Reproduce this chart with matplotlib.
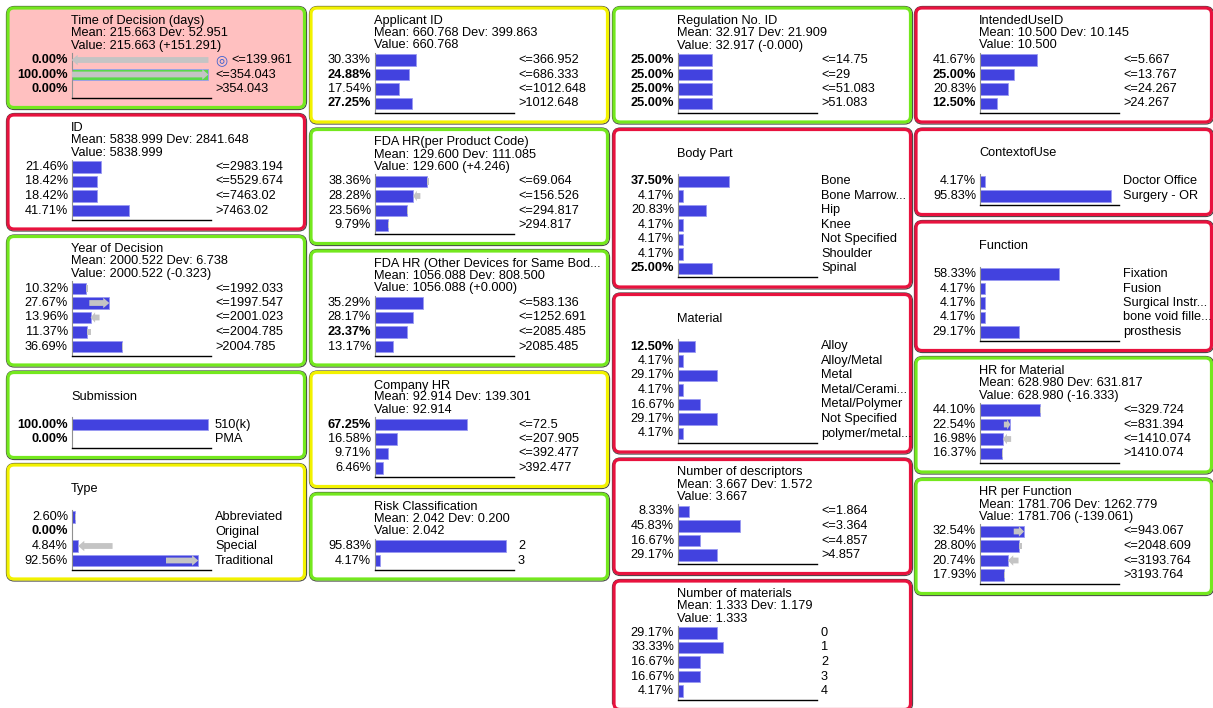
import matplotlib
matplotlib.use("Agg")
import matplotlib.pyplot as plt
from matplotlib.patches import FancyBboxPatch
from matplotlib.transforms import blended_transform_factory

plt.rcParams["font.family"] = ["Liberation Sans", "DejaVu Sans"]

time_states = ["<=139.961", "<=354.043", ">354.043"]
time_probs = [0.00, 100.00, 0.00]
time_prior = [100.0, 0.0, None]
time_bold = [0, 1, 2]
time_stats = (215.663, 52.951, 151.291)

id_states = ["<=2983.194", "<=5529.674", "<=7463.02", ">7463.02"]
id_probs = [21.46, 18.42, 18.42, 41.71]
id_stats = (5838.999, 2841.648, None)

year_states = ["<=1992.033", "<=1997.547", "<=2001.023", "<=2004.785", ">2004.785"]
year_probs = [10.32, 27.67, 13.96, 11.37, 36.69]
year_prior = [12.4, 13.0, 20.5, 14.2, 37.4]
year_stats = (2000.522, 6.738, -0.323)

sub_states = ["510(k)", "PMA"]
sub_probs = [100.00, 0.00]
sub_bold = [0, 1]

type_states = ["Abbreviated", "Original", "Special", "Traditional"]
type_probs = [2.60, 0.00, 4.84, 92.56]
type_prior = [3.6, None, 30.0, 69.0]
type_bold = [1]

app_states = ["<=366.952", "<=686.333", "<=1012.648", ">1012.648"]
app_probs = [30.33, 24.88, 17.54, 27.25]
app_bold = [1, 3]
app_stats = (660.768, 399.863, None)

fdapc_states = ["<=69.064", "<=156.526", "<=294.817", ">294.817"]
fdapc_probs = [38.36, 28.28, 23.56, 9.79]
fdapc_prior = [39.6, 33.5, 24.6, 10.9]
fdapc_stats = (129.600, 111.085, 4.246)

fdaod_states = ["<=583.136", "<=1252.691", "<=2085.485", ">2085.485"]
fdaod_probs = [35.29, 28.17, 23.37, 13.17]
fdaod_bold = [2]
fdaod_stats = (1056.088, 808.500, 0.0)

comp_states = ["<=72.5", "<=207.905", "<=392.477", ">392.477"]
comp_probs = [67.25, 16.58, 9.71, 6.46]
comp_bold = [0]
comp_stats = (92.914, 139.301, None)

risk_states = ["2", "3"]
risk_probs = [95.83, 4.17]
risk_stats = (2.042, 0.200, None)

reg_states = ["<=14.75", "<=29", "<=51.083", ">51.083"]
reg_probs = [25.00, 25.00, 25.00, 25.00]
reg_bold = [0, 1, 2, 3]
reg_stats = (32.917, 21.909, -0.0)

body_states = ["Bone", "Bone Marrow...", "Hip", "Knee", "Not Specified", "Shoulder", "Spinal"]
body_probs = [37.50, 4.17, 20.83, 4.17, 4.17, 4.17, 25.00]
body_bold = [0, 6]

mat_states = ["Alloy", "Alloy/Metal", "Metal", "Metal/Cerami...", "Metal/Polymer",
              "Not Specified", "polymer/metal..."]
mat_probs = [12.50, 4.17, 29.17, 4.17, 16.67, 29.17, 4.17]
mat_bold = [0]

ndesc_states = ["<=1.864", "<=3.364", "<=4.857", ">4.857"]
ndesc_probs = [8.33, 45.83, 16.67, 29.17]
ndesc_stats = (3.667, 1.572, None)

nmat_states = ["0", "1", "2", "3", "4"]
nmat_probs = [29.17, 33.33, 16.67, 16.67, 4.17]
nmat_stats = (1.333, 1.179, None)

use_states = ["<=5.667", "<=13.767", "<=24.267", ">24.267"]
use_probs = [41.67, 25.00, 20.83, 12.50]
use_bold = [1, 3]
use_stats = (10.500, 10.145, None)

ctx_states = ["Doctor Office", "Surgery - OR"]
ctx_probs = [4.17, 95.83]

func_states = ["Fixation", "Fusion", "Surgical Instr...", "bone void fille...", "prosthesis"]
func_probs = [58.33, 4.17, 4.17, 4.17, 29.17]

hrm_states = ["<=329.724", "<=831.394", "<=1410.074", ">1410.074"]
hrm_probs = [44.10, 22.54, 16.98, 16.37]
hrm_prior = [45.0, 17.8, 23.1, 17.2]
hrm_stats = (628.980, 631.817, -16.333)

hrf_states = ["<=943.067", "<=2048.609", "<=3193.764", ">3193.764"]
hrf_probs = [32.54, 28.80, 20.74, 17.93]
hrf_prior = [25.0, 31.0, 28.5, 18.6]
hrf_stats = (1781.706, 1262.779, -139.061)

# ── Style ──────────────────────────────────────────────────────────
W, H = 1213, 708
FS = 9.2
GREEN = "#74e81e"
RED = "#e8123e"
YELLOW = "#f2f200"
BAR = "#4242df"
BAR_EDGE = "#9a9af2"
GHOST = "#c4c4c4"
COL_X = [7, 310, 613, 915]
COL_W = [298, 298, 298, 297]
ROW = 14.5


def P(name, states, probs, border, stats=None, bold=(), prior=None, fill="white",
      bar_color=BAR, icon_row=None):
    return dict(name=name, states=states, probs=probs, border=border, stats=stats,
                bold=bold, prior=prior, fill=fill, bar_color=bar_color, icon_row=icon_row)


columns = [
    [P("Time of Decision (days)", time_states, time_probs, GREEN, time_stats, time_bold,
       time_prior, fill="#ffc0c0", bar_color="#5ad84a", icon_row=0),
     P("ID", id_states, id_probs, RED, id_stats),
     P("Year of Decision", year_states, year_probs, GREEN, year_stats, prior=year_prior),
     P("Submission", sub_states, sub_probs, GREEN, bold=sub_bold),
     P("Type", type_states, type_probs, YELLOW, bold=type_bold, prior=type_prior)],
    [P("Applicant ID", app_states, app_probs, YELLOW, app_stats, app_bold),
     P("FDA HR(per Product Code)", fdapc_states, fdapc_probs, GREEN, fdapc_stats, prior=fdapc_prior),
     P("FDA HR (Other Devices for Same Bod...", fdaod_states, fdaod_probs, GREEN, fdaod_stats, fdaod_bold),
     P("Company HR", comp_states, comp_probs, YELLOW, comp_stats, comp_bold),
     P("Risk Classification", risk_states, risk_probs, GREEN, risk_stats)],
    [P("Regulation No. ID", reg_states, reg_probs, GREEN, reg_stats, reg_bold),
     P("Body Part", body_states, body_probs, RED, bold=body_bold),
     P("Material", mat_states, mat_probs, RED, bold=mat_bold),
     P("Number of descriptors", ndesc_states, ndesc_probs, RED, ndesc_stats),
     P("Number of materials", nmat_states, nmat_probs, RED, nmat_stats)],
    [P("IntendedUseID", use_states, use_probs, RED, use_stats, use_bold),
     P("ContextofUse", ctx_states, ctx_probs, RED),
     P("Function", func_states, func_probs, RED),
     P("HR for Material", hrm_states, hrm_probs, GREEN, hrm_stats, prior=hrm_prior),
     P("HR per Function", hrf_states, hrf_probs, GREEN, hrf_stats, prior=hrf_prior)],
]

fig = plt.figure(figsize=(W / 100, H / 100), dpi=100)
bg = fig.add_axes([0, 0, 1, 1])
bg.set_xlim(0, W)
bg.set_ylim(H, 0)
bg.axis("off")


def draw_panel(x0, w, top, p):
    n = len(p["probs"])
    h = 72 + ROW * (n - 1)
    # dark outline with a slight drop to the right/bottom, then the coloured band
    bg.add_patch(FancyBboxPatch((x0 - 0.5, top - 0.5), w + 2, h + 2,
                                boxstyle="round,pad=0,rounding_size=8",
                                fc="none", ec="#4a4a4a", lw=0.9, zorder=1))
    bg.add_patch(FancyBboxPatch((x0 + 1, top + 1), w - 1.5, h - 1.5,
                                boxstyle="round,pad=0,rounding_size=6",
                                fc=p["fill"], ec=p["border"], lw=2.3, zorder=2))

    tx = x0 + 64
    if p["stats"] is not None:
        mean, dev, delta = p["stats"]
        value = f"Value: {mean:.3f}" + (f" ({delta:+.3f})" if delta is not None else "")
        bg.text(tx, top + 14, p["name"], fontsize=FS, va="center", zorder=3)
        bg.text(tx, top + 26, f"Mean: {mean:.3f} Dev: {dev:.3f}", fontsize=FS, va="center", zorder=3)
        bg.text(tx, top + 38.5, value, fontsize=FS, va="center", zorder=3)
    else:
        bg.text(tx, top + 25, p["name"], fontsize=FS, va="center", zorder=3)

    first = top + 53
    base = first + ROW * (n - 1) + 9
    ax_top = first - ROW / 2
    left = x0 + 64.5
    ax = fig.add_axes([left / W, 1 - base / H, 139 / W, (base - ax_top) / H])
    ax.set_xlim(0, 101.5)
    ax.set_ylim(n - 1 + 9 / ROW, -0.5)
    ax.patch.set_alpha(0)
    for s in ("top", "right"):
        ax.spines[s].set_visible(False)
    ax.spines["left"].set_color("#909090")
    ax.spines["left"].set_linewidth(0.8)
    ax.spines["bottom"].set_color("black")
    ax.spines["bottom"].set_linewidth(1.0)
    ax.set_xticks([])
    ax.set_yticks([])

    ys = list(range(n))
    ax.barh(ys, p["probs"], height=0.77, color=p["bar_color"], edgecolor=BAR_EDGE,
            linewidth=0.6, zorder=2)

    if p["prior"] is not None:
        for i, (cur, pr) in enumerate(zip(p["probs"], p["prior"])):
            if pr is None:
                continue
            d = pr - cur
            if abs(d) < 4:
                if d > 0:
                    ax.barh(i, d, left=cur, height=0.45, color=GHOST, zorder=3)
            else:
                ax.arrow(pr, i, cur - pr, 0, width=0.4, head_width=0.72,
                         head_length=min(4.5, abs(d) * 0.5), length_includes_head=True,
                         fc=GHOST, ec="none", zorder=3)

    tr = blended_transform_factory(ax.transAxes, ax.transData)
    for i, (st, v) in enumerate(zip(p["states"], p["probs"])):
        ax.text(-0.025, i, f"{v:.2f}%", transform=tr, ha="right", va="center",
                fontsize=FS, fontweight="bold" if i in p["bold"] else "normal")
        sx = 1.032
        if p["icon_row"] == i:
            ax.text(sx, i, "◎", transform=tr, ha="left", va="center", fontsize=10,
                    color="#3a5fd0", family="DejaVu Sans")
            sx += 16 / 139
        ax.text(sx, i, st, transform=tr, ha="left", va="center", fontsize=FS)
    return h


for x0, w, panels in zip(COL_X, COL_W, columns):
    top = 7
    for p in panels:
        h = draw_panel(x0, w, top, p)
        top += h + 6

fig.savefig("out.png", dpi=100)
